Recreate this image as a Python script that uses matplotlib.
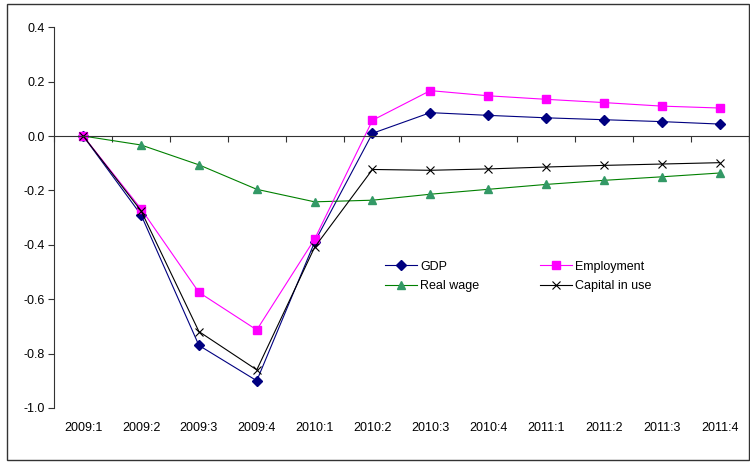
""" Response of GDP, employment, real wage and capital in use, quarterly 2009:1 - 2011:4. """

import matplotlib
matplotlib.use('Agg')
import matplotlib.pyplot as plt
from matplotlib.patches import Rectangle

plt.rcParams['font.family'] = ['Liberation Sans', 'DejaVu Sans']
plt.rcParams['font.size'] = 9

quarters = ['2009:1', '2009:2', '2009:3', '2009:4', '2010:1', '2010:2',
            '2010:3', '2010:4', '2011:1', '2011:2', '2011:3', '2011:4']
gdp = [0.0, -0.29, -0.77, -0.90, -0.39, 0.01, 0.086, 0.076, 0.067, 0.060, 0.053, 0.044]
employment = [0.0, -0.268, -0.575, -0.713, -0.379, 0.058, 0.167, 0.148, 0.135, 0.123, 0.110, 0.103]
real_wage = [0.0, -0.033, -0.106, -0.196, -0.242, -0.236, -0.214, -0.196, -0.178, -0.163, -0.150, -0.136]
capital = [0.0, -0.275, -0.719, -0.860, -0.409, -0.123, -0.126, -0.121, -0.114, -0.108, -0.103, -0.098]
yticks = [0.4, 0.2, 0.0, -0.2, -0.4, -0.6, -0.8, -1.0]

fig = plt.figure(figsize=(7.5, 4.62), dpi=100)
ax = fig.add_axes([0.0724, 0.117, 0.9256, 0.824])

x = list(range(len(quarters)))
ax.plot(x, gdp, color='#000080', lw=0.8, marker='D', ms=5, label='GDP')
ax.plot(x, real_wage, color='#008000', lw=0.8, marker='^', ms=6,
        mfc='#339966', mec='#339966', label='Real wage')
ax.plot(x, employment, color='#FF00FF', lw=0.8, marker='s', ms=6, label='Employment')
ax.plot(x, capital, color='black', lw=0.8, marker='x', ms=6, mew=0.8, label='Capital in use')

ax.set_xlim(-0.5, len(quarters) - 0.5)
ax.set_ylim(-1.0, 0.4)
ax.set_yticks(yticks)
ax.set_yticklabels(['{:.1f}'.format(v) for v in yticks])

# category axis crosses at zero, labels sit under the plot like Excel
ax.spines['top'].set_visible(False)
ax.spines['right'].set_visible(False)
ax.spines['bottom'].set_position(('data', 0))
ax.spines['bottom'].set_color('#333333')
ax.spines['left'].set_color('#333333')
ax.set_xticks([i - 0.5 for i in range(len(quarters) + 1)])
ax.set_xticklabels([])
ax.tick_params(axis='x', direction='out', length=4, color='#333333')
ax.tick_params(axis='y', direction='out', length=4, color='#333333', pad=3)

sec = ax.secondary_xaxis(0)
sec.set_xticks(x)
sec.set_xticklabels(quarters)
sec.tick_params(length=0, pad=10)
sec.spines['bottom'].set_visible(False)

ax.legend(loc='upper left', bbox_to_anchor=(0.505, 0.449), bbox_transform=fig.transFigure,
          ncol=2, frameon=False, borderpad=0, handlelength=2.55, handletextpad=0.25,
          columnspacing=4.9, labelspacing=0.6)

fig.patches.append(Rectangle((0.009, 0.004), 0.99, 0.987, transform=fig.transFigure,
                             fill=False, edgecolor='#333333', lw=1))

plt.savefig('out.png')
